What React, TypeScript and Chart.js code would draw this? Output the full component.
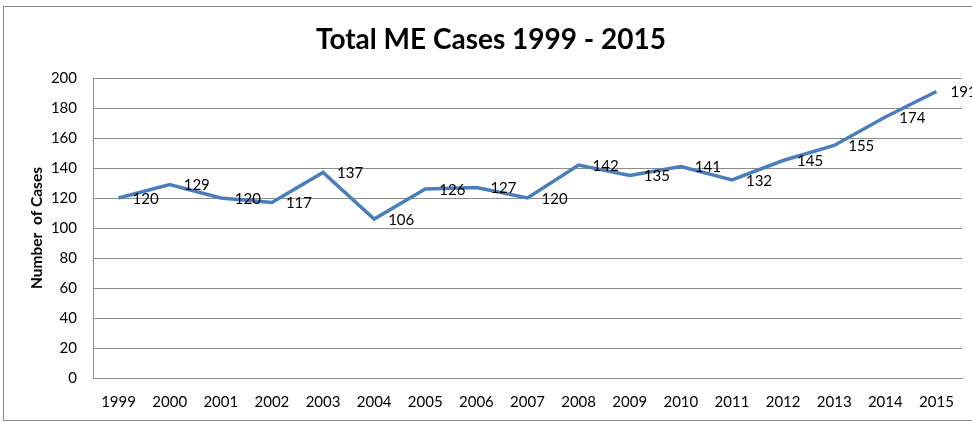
import React, { useEffect, useRef } from "react";
import { Chart, registerables } from "chart.js";

Chart.register(...registerables);

const years = ["1999","2000","2001","2002","2003","2004","2005","2006","2007","2008","2009","2010","2011","2012","2013","2014","2015"];
const cases = [120,129,120,117,137,106,126,127,120,142,135,141,132,145,155,174,191];
const yTicks = [0,20,40,60,80,100,120,140,160,180,200];
const chartTitle = "Total ME Cases 1999 - 2015";
const yAxisTitle = "Number  of Cases";

const FONT = "Lato, 'Open Sans', sans-serif";

const decorPlugin = {
  id: "decor",
  beforeDraw(chart: any) {
    const ctx = chart.ctx;
    ctx.save();
    ctx.fillStyle = "#ffffff";
    ctx.fillRect(0, 0, chart.width, chart.height);
    ctx.strokeStyle = "#8c8c8c";
    ctx.lineWidth = 1;
    ctx.strokeRect(3.5, 6.5, chart.width + 20, 414);
    ctx.restore();
  },
  afterDraw(chart: any) {
    const ctx = chart.ctx;
    ctx.save();
    ctx.fillStyle = "#000000";
    ctx.font = `bold 28px ${FONT}`;
    ctx.textAlign = "center";
    ctx.textBaseline = "alphabetic";
    ctx.fillText(chartTitle, 491, 49);

    ctx.save();
    ctx.translate(37, 228);
    ctx.rotate(-Math.PI / 2);
    ctx.font = `bold 15.5px ${FONT}`;
    ctx.textAlign = "center";
    ctx.textBaseline = "middle";
    ctx.fillText(yAxisTitle, 0, 0);
    ctx.restore();

    const meta = chart.getDatasetMeta(0);
    ctx.font = `15px ${FONT}`;
    ctx.textAlign = "left";
    ctx.textBaseline = "middle";
    meta.data.forEach((pt: any, i: number) => {
      ctx.fillText(String(cases[i]), pt.x + 14, pt.y + 1);
    });
    ctx.restore();
  },
};

export default function App() {
  const ref = useRef<HTMLCanvasElement | null>(null);
  useEffect(() => {
    if (!ref.current) return;
    const chart = new Chart(ref.current, {
      type: "line",
      data: {
        labels: years,
        datasets: [
          {
            data: cases,
            borderColor: "#4A7EBB",
            borderWidth: 3.5,
            pointRadius: 0,
            tension: 0,
            fill: false,
          },
        ],
      },
      options: {
        responsive: false,
        animation: false,
        layout: { padding: { top: 78, right: 10, left: 0, bottom: 0 } },
        plugins: {
          legend: { display: false },
          title: { display: false },
          tooltip: { enabled: false },
        },
        scales: {
          x: {
            offset: true,
            grid: { display: false, drawTicks: false },
            border: { display: true, color: "#8c8c8c", width: 1 },
            ticks: {
              color: "#000000",
              font: { family: FONT, size: 15 },
              padding: 15,
              maxRotation: 0,
              autoSkip: false,
            },
            afterFit(scale: any) {
              scale.height = 44;
            },
          },
          y: {
            min: 0,
            max: 200,
            afterBuildTicks(scale: any) {
              scale.ticks = yTicks.map((v) => ({ value: v }));
            },
            grid: { color: "#8c8c8c", lineWidth: 1, drawTicks: false },
            border: { display: true, color: "#8c8c8c", width: 1 },
            ticks: {
              color: "#000000",
              font: { family: FONT, size: 15 },
              padding: 16,
            },
            afterFit(scale: any) {
              scale.width = 93;
            },
          },
        },
      },
      plugins: [decorPlugin],
    });
    return () => chart.destroy();
  }, []);
  return (
    <div style={{ position: "absolute", left: 0, top: 0, width: 972, height: 422 }}>
      <canvas ref={ref} width={972} height={422} />
    </div>
  );
}
